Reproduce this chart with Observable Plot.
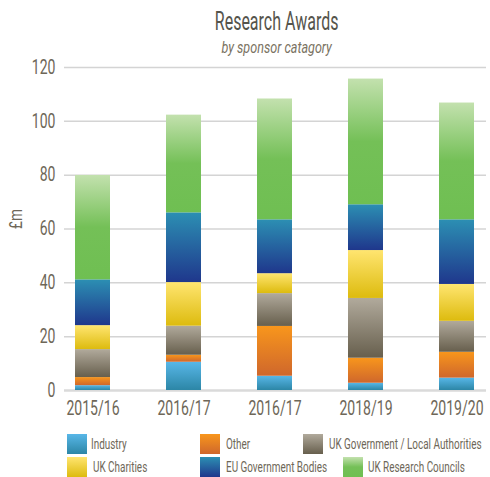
<!DOCTYPE html>
<html>
<head>
<meta charset="utf-8">
<script src="https://cdn.jsdelivr.net/npm/d3@7"></script>
<script src="https://cdn.jsdelivr.net/npm/@observablehq/plot@0.6"></script>
<style>
  html, body { margin: 0; padding: 0; background: #fff; }
  body { width: 490px; height: 477px; overflow: hidden; position: relative;
         font-family: Roboto, "Noto Sans", sans-serif; }
  #header { position: relative; height: 60px; }
  .hline { position: absolute; left: 64px; width: 426px; text-align: center; line-height: 1; }
  .hline span { display: inline-block; transform-origin: center; }
  #title { top: 9px; font-size: 25px; color: #55544c; }
  #title span { transform: scaleX(0.64); }
  #subtitle { top: 39px; font-size: 17px; font-style: italic; color: #7a7262; }
  #subtitle span { transform: scaleX(0.74); }
  #legend { position: absolute; left: 0; top: 434px; width: 490px; }
  .item { position: absolute; height: 20px; }
  .sw { position: absolute; left: 0; top: 0; width: 20px; height: 20px; }
  .lab { position: absolute; top: 1px; font-size: 15.5px; line-height: 18px; color: #6e6758; white-space: nowrap;
         transform: scaleX(0.64); transform-origin: left center; }
</style>
</head>
<body>
<div id="header">
  <div id="title" class="hline"><span>Research Awards</span></div>
  <div id="subtitle" class="hline"><span>by sponsor catagory</span></div>
</div>
<div id="chart"></div>
<div id="legend"></div>
<script>
const years = ["2015/16", "2016/17", "2016/17", "2018/19", "2019/20"];
const sponsors = ["Industry", "Other", "UK Government / Local Authorities", "UK Charities", "EU Government Bodies", "UK Research Councils"];
const industry  = [1.8, 10.5, 5.3, 2.7, 4.6];
const other     = [3.0, 2.6, 18.5, 9.3, 9.6];
const ukGov     = [10.4, 10.8, 12.2, 22.2, 11.5];
const charities = [8.9, 16.2, 7.4, 17.8, 13.7];
const eu        = [17.0, 25.9, 20.0, 17.0, 24.0];
const councils  = [38.8, 36.3, 44.9, 46.7, 43.4];
const yTicks = [0, 20, 40, 60, 80, 100, 120];

const series = [industry, other, ukGov, charities, eu, councils];
const gradients = [
  [[0, "#58b7e8"], [1, "#2c86a6"]],
  [[0, "#f8961c"], [1, "#cf672c"]],
  [[0, "#b1aa9c"], [1, "#675f4d"]],
  [[0, "#ffe570"], [1, "#ddbb0e"]],
  [[0, "#2c8fb3"], [1, "#1f378c"]],
  [[0, "#c3e1ae"], [0.5, "#74c057"], [1, "#6fbf52"]]
];
const ids = sponsors.map((s, k) => "grad" + k);

const table = [];
years.forEach((y, i) => {
  sponsors.forEach((s, k) => table.push({i, sponsor: s, value: series[k][i]}));
});

const chart = Plot.plot({
  width: 490,
  height: 370,
  marginLeft: 64,
  marginRight: 4,
  marginTop: 7,
  marginBottom: 40,
  style: {overflow: "visible", fontFamily: "Roboto, 'Noto Sans', sans-serif"},
  x: {type: "band", domain: d3.range(years.length), paddingInner: 0.61, paddingOuter: 0.1, label: null},
  y: {domain: [0, 120], label: null},
  color: {domain: sponsors, range: ids.map(id => `url(#${id})`)},
  marks: [
    Plot.ruleY(yTicks.filter(t => t > 0), {stroke: "#d4d4d4", strokeWidth: 1.5}),
    Plot.ruleY([0], {stroke: "#dadada", strokeWidth: 2.5}),
    Plot.barY(table, {x: "i", y: "value", fill: "sponsor"}),
    Plot.axisY({ticks: yTicks, tickSize: 0, tickPadding: 9, fontSize: 19.5, fill: "#6e6758", label: null}),
    Plot.axisX({tickSize: 0, tickPadding: 11, fontSize: 19.5, fill: "#6e6758", tickFormat: i => years[i], label: null}),
    Plot.text(["£m"], {frameAnchor: "left", dx: -49, rotate: -90, fontSize: 19, fill: "#6e6758"})
  ]
});

// condense SVG text to mimic the narrow typeface
d3.select(chart).selectAll("text").attr("transform", function() {
  return (this.getAttribute("transform") || "") + " scale(0.72,1)";
});

const defs = d3.select(chart).insert("defs", ":first-child");
gradients.forEach((stops, k) => {
  const g = defs.append("linearGradient").attr("id", ids[k])
    .attr("x1", 0).attr("y1", 0).attr("x2", 0).attr("y2", 1);
  stops.forEach(([o, c]) => g.append("stop").attr("offset", o).attr("stop-color", c));
});
document.getElementById("chart").appendChild(chart);

// legend
const legendPos = [[67, 0], [200, 0], [303, 0], [67, 23], [200, 23], [343, 23]];
const labelGap = [24, 26, 26, 26, 26, 25];
const legend = document.getElementById("legend");
sponsors.forEach((s, k) => {
  const item = document.createElement("div");
  item.className = "item";
  item.style.left = legendPos[k][0] + "px";
  item.style.top = legendPos[k][1] + "px";
  const sw = document.createElement("div");
  sw.className = "sw";
  sw.style.background = "linear-gradient(to bottom, " + gradients[k].map(([o, c]) => `${c} ${o * 100}%`).join(", ") + ")";
  const lab = document.createElement("span");
  lab.className = "lab";
  lab.style.left = labelGap[k] + "px";
  lab.textContent = s;
  item.appendChild(sw);
  item.appendChild(lab);
  legend.appendChild(item);
});
</script>
</body>
</html>
